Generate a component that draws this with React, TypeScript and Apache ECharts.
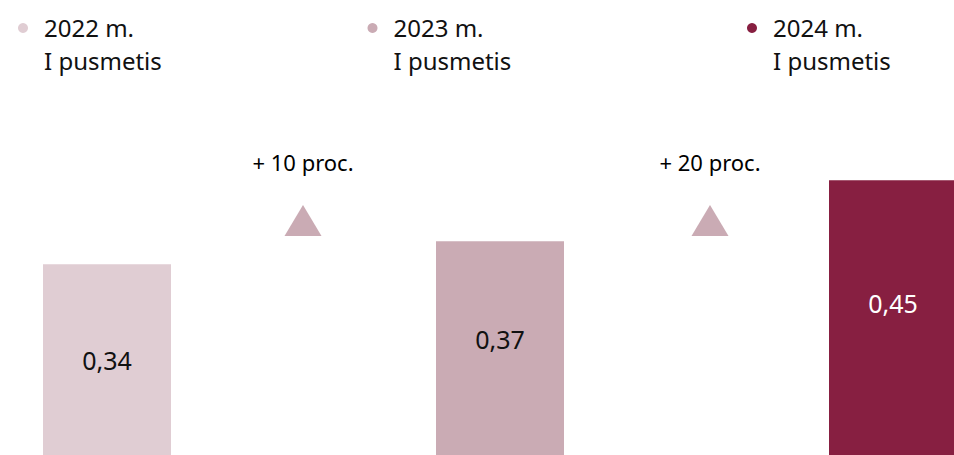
import React, { useEffect, useRef } from "react";
import * as echarts from "echarts";

const PERIODS = ["2022 m.\nI pusmetis", "2023 m.\nI pusmetis", "2024 m.\nI pusmetis"];
const VALUES = [0.34, 0.37, 0.45];
const VALUE_LABELS = ["0,34", "0,37", "0,45"];
const COLORS = ["#e0cdd3", "#caabb4", "#871f41"];
const LABEL_COLORS = ["#111111", "#111111", "#ffffff"];
const TRANSITIONS = ["2022–2023", "2023–2024"];
const GROWTH = [10, 20];

const FONT = "'Noto Sans', sans-serif";

export default function App() {
  const ref = useRef<HTMLDivElement>(null);
  useEffect(() => {
    if (!ref.current) return;
    const chart = echarts.init(ref.current, undefined, { renderer: "svg" });
    const legendX = [23, 372.5, 752];
    const labelOffsets = [0, -9, -15];
    const graphic: any[] = [];
    PERIODS.forEach((p, i) => {
      graphic.push({
        type: "circle",
        shape: { cx: legendX[i], cy: 28, r: 5 },
        style: { fill: COLORS[i] },
      });
      graphic.push({
        type: "text",
        x: legendX[i] + 21,
        y: 11,
        style: {
          text: p,
          font: `24px ${FONT}`,
          fill: "#111111",
          lineHeight: 33,
          verticalAlign: "top",
        },
      });
    });
    chart.setOption({
      animation: false,
      graphic,
      grid: [
        { left: 107, right: 61, top: 142, bottom: 0 },
        { left: 303, right: 244, top: 205, height: 31 },
      ],
      xAxis: [
        { type: "category", gridIndex: 0, data: PERIODS, boundaryGap: false, show: false },
        { type: "category", gridIndex: 1, data: TRANSITIONS, boundaryGap: false, show: false },
      ],
      yAxis: [
        { type: "value", gridIndex: 0, min: 0.09, max: 0.5, show: false },
        { type: "category", gridIndex: 1, data: ["pokytis"], show: false },
      ],
      series: [
        {
          type: "bar",
          xAxisIndex: 0,
          yAxisIndex: 0,
          barWidth: 128,
          data: VALUES.map((v, i) => ({
            value: v,
            itemStyle: { color: COLORS[i] },
            label: {
              show: true,
              position: "inside",
              offset: [0, labelOffsets[i]],
              formatter: VALUE_LABELS[i],
              color: LABEL_COLORS[i],
              fontSize: 25,
              fontFamily: FONT,
            },
          })),
        },
        {
          type: "scatter",
          xAxisIndex: 1,
          yAxisIndex: 1,
          symbol: "triangle",
          symbolSize: [37, 31],
          itemStyle: { color: "#caabb4", opacity: 1 },
          data: GROWTH.map((g, i) => ({ value: [TRANSITIONS[i], "pokytis"], growth: g })),
          label: {
            show: true,
            position: "top",
            distance: 32,
            formatter: (p: any) => `+ ${p.data.growth} proc.`,
            color: "#000000",
            fontSize: 22,
            fontFamily: FONT,
          },
        },
      ],
    });
    return () => chart.dispose();
  }, []);
  return (
    <div
      ref={ref}
      style={{ position: "fixed", left: 0, top: 0, width: 954, height: 455, background: "#ffffff" }}
    />
  );
}
